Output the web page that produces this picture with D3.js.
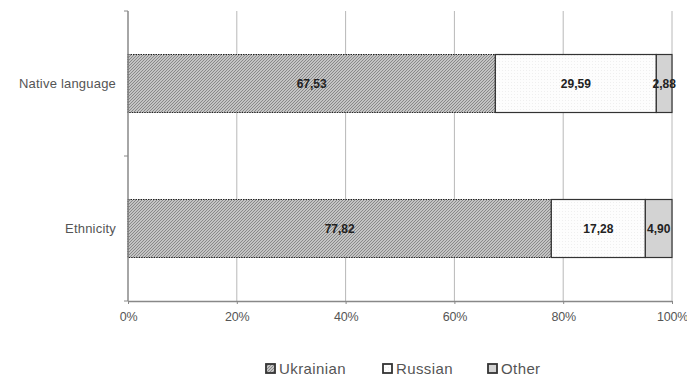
<!DOCTYPE html>
<html><head><meta charset="utf-8">
<script src="https://d3js.org/d3.v7.min.js"></script>
<style>body{margin:0;background:#fff;}svg{display:block;font-family:"Liberation Sans",Arial,sans-serif;}</style>
</head><body>
<script>
const categories = ["Native language", "Ethnicity"];
const seriesNames = ["Ukrainian", "Russian", "Other"];
const ukrainian = [67.53, 77.82];
const russian = [29.59, 17.28];
const other = [2.88, 4.90];
const xTicks = [0, 20, 40, 60, 80, 100];

const W = 687, H = 380;
const m = {left: 128, right: 15, top: 11, bottom: 79};
const svg = d3.select("body").append("svg").attr("width", W).attr("height", H);

const defs = svg.append("defs");
const pu = defs.append("pattern").attr("id","pU").attr("patternUnits","userSpaceOnUse").attr("width",3).attr("height",3);
pu.append("rect").attr("width",3).attr("height",3).attr("fill","#c4c4c4");
pu.append("path").attr("d","M-1,1 L1,-1 M0,3 L3,0 M2,4 L4,2").attr("stroke","#7a7a7a").attr("stroke-width",0.8);
const pr = defs.append("pattern").attr("id","pR").attr("patternUnits","userSpaceOnUse").attr("width",3).attr("height",3);
pr.append("rect").attr("width",3).attr("height",3).attr("fill","#fdfdfd");
pr.append("rect").attr("x",1).attr("y",1).attr("width",1).attr("height",1).attr("fill","#efefef");
const fills = ["url(#pU)", "url(#pR)", "#d3d3d3"];

const x = d3.scaleLinear().domain([0,100]).range([m.left, W - m.right]);
const y = d3.scaleBand().domain(categories).range([m.top, H - m.bottom]).paddingInner(0.6).paddingOuter(0.3);

// gridlines
svg.append("g").selectAll("line").data(xTicks.slice(1)).join("line")
  .attr("x1", d => x(d)).attr("x2", d => x(d))
  .attr("y1", m.top).attr("y2", H - m.bottom)
  .attr("stroke", "#b8b8b8").attr("stroke-width", 1);

const rows = categories.map((c, i) => {
  const vals = [ukrainian[i], russian[i], other[i]];
  let acc = 0;
  return vals.map((v, j) => { const s = acc; acc += v; return {cat: c, s, e: acc, v, j}; });
});

const g = svg.append("g");
rows.flat().forEach(d => {
  g.append("rect")
    .attr("x", x(d.s)).attr("y", y(d.cat))
    .attr("width", x(Math.min(d.e,100)) - x(d.s)).attr("height", y.bandwidth())
    .attr("fill", fills[d.j])
    .attr("stroke", d.j === 0 ? "#222" : "#333")
    .attr("stroke-width", 1.2)
    .attr("stroke-dasharray", d.j === 0 ? "1.5,1" : null);
  g.append("text")
    .attr("x", (x(d.s) + x(Math.min(d.e,100))) / 2)
    .attr("y", y(d.cat) + y.bandwidth()/2 + 4)
    .attr("text-anchor", "middle")
    .attr("font-size", 12).attr("font-weight", "bold").attr("fill", "#222")
    .text(d.v.toFixed(2).replace(".", ","));
});

// x axis
const xa = svg.append("g").attr("transform", `translate(0,${H - m.bottom})`)
  .call(d3.axisBottom(x).tickValues(xTicks).tickFormat(d => d + "%").tickSize(3).tickSizeOuter(0));
xa.select(".domain").attr("stroke", "#888").attr("stroke-width", 1.5);
xa.selectAll(".tick line").attr("stroke", "#888");
xa.selectAll("text").attr("font-size", 12.5).attr("fill", "#555").attr("dy", "1.15em")
  .attr("letter-spacing", -0.2)
  .attr("font-family", "Liberation Sans, Arial, sans-serif");

// y axis
const ya = svg.append("g").attr("transform", `translate(${m.left},0)`)
  .call(d3.axisLeft(y).tickSize(0).tickPadding(12));
ya.select(".domain").remove();
ya.append("line").attr("x1",0).attr("x2",0).attr("y1",m.top).attr("y2",H-m.bottom).attr("stroke","#888").attr("stroke-width",1.5);
const yb = [m.top, (y(categories[0]) + y.bandwidth() + y(categories[1]))/2, H - m.bottom];
ya.selectAll(".sep").data(yb).join("line").attr("class","sep")
  .attr("x1",-4).attr("x2",0).attr("y1",d=>d).attr("y2",d=>d).attr("stroke","#888");
ya.selectAll("text").attr("font-size", 13).attr("fill", "#555").attr("letter-spacing", 0.2)
  .attr("font-family", "Liberation Sans, Arial, sans-serif");

// legend
const legX = [266, 383, 488];
const leg = svg.append("g");
seriesNames.forEach((n, i) => {
  leg.append("rect").attr("x", legX[i]).attr("y", 364).attr("width", 9).attr("height", 9)
    .attr("fill", fills[i]).attr("stroke", "#333").attr("stroke-width", 1.8);
  leg.append("text").attr("x", legX[i] + 13).attr("y", 374)
    .attr("font-size", 15).attr("letter-spacing", 0.4).attr("fill", "#555").text(n);
});
</script>
</body></html>
